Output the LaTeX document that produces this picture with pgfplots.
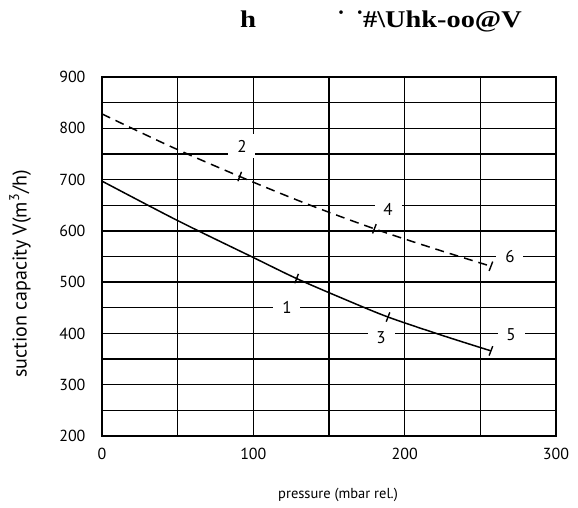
\documentclass[border=0pt]{standalone}
\usepackage{pgfplots}
\pgfplotsset{compat=1.18}
\usepackage{fontspec}
\setmainfont{PT Sans}
\newfontfamily\titlefont{Liberation Serif}

\begin{document}
\begin{tikzpicture}
\path[use as bounding box] (-102pt,-72pt) rectangle (476pt,436pt);
\begin{axis}[
  at={(0,0)}, anchor=south west,
  scale only axis, width=454pt, height=359pt,
  xmin=0, xmax=300, ymin=200, ymax=900,
  xtick={0,100,200,300}, minor xtick={50,150,250},
  ytick={200,300,...,900}, minor ytick={250,350,...,850},
  grid=both,
  major grid style={black, line width=1.4pt},
  minor grid style={black, line width=1.4pt},
  axis line style={black, line width=1.5pt},
  major tick length=0pt, minor tick length=0pt,
  tick label style={font=\fontsize{16}{17}\selectfont},
  /pgf/number format/assume math mode=true,
  xticklabel style={yshift=-9pt},
  yticklabel style={xshift=-13pt},
  xlabel={pressure (mbar rel.)},
  ylabel={suction capacity V(m\textsuperscript{3}/h)},
  xlabel style={font=\fontsize{14.5}{15}\selectfont, at={(axis description cs:0.52,-0.164)}, anchor=center},
  ylabel style={font=\fontsize{20}{21}\selectfont, at={(axis description cs:-0.18,0.451)}, anchor=center},
]
% solid curve
\addplot[black, line width=1.5pt, smooth] coordinates {
  (0,697) (50,620) (100,548) (128.6,507) (160,467) (189,432) (225,396) (257,366)};
% dashed curve
\addplot[black, line width=1.5pt, smooth, dash pattern=on 9pt off 6pt] coordinates {
  (0,828) (45,765) (91,706) (135,653) (180,604) (220,565) (257,531)};
% marks on the curves
\addplot[only marks, mark=|, mark size=5pt, mark options={black, line width=1.4pt, rotate=-21}] coordinates {
  (128.6,507) (189,432) (257,366) (91,706) (180,604) (257,531)};

\tikzset{lbl/.style={fill=white, inner sep=0pt, minimum width=27pt, minimum height=24pt, font=\fontsize{17}{18}\selectfont}}
\node[lbl] at (axis cs:92.5,765) {2};
\node[lbl] at (axis cs:189,641) {4};
\node[lbl] at (axis cs:269.6,549) {6};
\node[lbl] at (axis cs:122.2,451) {1};
\node[lbl] at (axis cs:184.4,391) {3};
\node[lbl] at (axis cs:270.3,397) {5};
\end{axis}
\tikzset{ttl/.style={inner sep=0pt, font=\titlefont\bfseries\fontsize{24}{25}\selectfont}}
\node[ttl, anchor=base west] at (138pt,408pt) {\scalebox{1.2}[1]{h}};
\node[ttl, anchor=base west] at (235pt,408pt) {˙\hspace{0.45em}˙};
\node[ttl, anchor=base west] at (261pt,408pt) {\scalebox{1.18}[1]{\#\textbackslash Uhk-oo@V}};
\end{tikzpicture}
\end{document}
